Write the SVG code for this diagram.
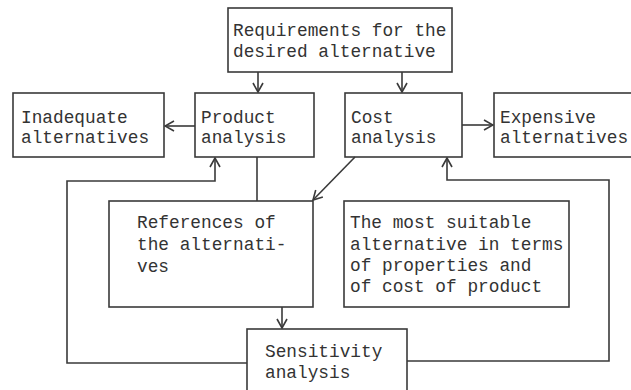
<svg xmlns="http://www.w3.org/2000/svg" width="631" height="390" viewBox="0 0 631 390">
<defs>
<style>
.box{fill:none;stroke:#3a3a3a;stroke-width:1.6}
.ln{fill:none;stroke:#3a3a3a;stroke-width:1.6}
text{font-family:"Liberation Mono","DejaVu Sans Mono",monospace;font-size:17.8px;fill:#333}
</style>
<marker id="ah" viewBox="0 0 12 12" refX="11" refY="6" markerWidth="12" markerHeight="12" markerUnits="userSpaceOnUse" orient="auto">
<path d="M2,1 L11,6 L2,11" fill="none" stroke="#3a3a3a" stroke-width="1.6"/>
</marker>
</defs>
<rect width="631" height="390" fill="#fff"/>
<g id="requirements"><rect class="box" x="228" y="8" width="224" height="64"/>
<text x="233" y="36">Requirements for the</text><text x="233" y="57">desired alternative</text></g>
<g id="inadequate"><rect class="box" x="13" y="93" width="151" height="64"/>
<text x="21" y="123">Inadequate</text><text x="21" y="143">alternatives</text></g>
<g id="product"><rect class="box" x="195" y="93" width="119" height="64"/>
<text x="201" y="123">Product</text><text x="201" y="143">analysis</text></g>
<g id="cost"><rect class="box" x="345" y="93" width="117" height="64"/>
<text x="351" y="123">Cost</text><text x="351" y="143">analysis</text></g>
<g id="expensive"><rect class="box" x="494" y="93" width="145" height="64"/>
<text x="500" y="123">Expensive</text><text x="500" y="143">alternatives</text></g>
<g id="references"><rect class="box" x="109" y="201" width="204" height="106"/>
<text x="137" y="228">References of</text><text x="137" y="250">the alternati-</text><text x="137" y="272">ves</text></g>
<g id="suitable"><rect class="box" x="344" y="201" width="225" height="106"/>
<text x="350" y="228">The most suitable</text><text x="350" y="250">alternative in terms</text><text x="350" y="271">of properties and</text><text x="350" y="292">of cost of product</text></g>
<g id="sensitivity"><rect class="box" x="247" y="329" width="160" height="70"/>
<text x="265" y="357">Sensitivity</text><text x="265" y="378">analysis</text></g>
<g id="connectors">
<line class="ln" x1="258" y1="72" x2="258" y2="92" marker-end="url(#ah)"/>
<line class="ln" x1="402" y1="72" x2="402" y2="92" marker-end="url(#ah)"/>
<line class="ln" x1="195" y1="126" x2="165" y2="126" marker-end="url(#ah)"/>
<line class="ln" x1="462" y1="125" x2="493" y2="125" marker-end="url(#ah)"/>
<line class="ln" x1="257" y1="157" x2="257" y2="201"/>
<line class="ln" x1="355" y1="157" x2="313" y2="200" marker-end="url(#ah)"/>
<line class="ln" x1="282" y1="307" x2="282" y2="328" marker-end="url(#ah)"/>
<polyline class="ln" points="247,363 67,363 67,181 215,181 215,158" marker-end="url(#ah)"/>
<polyline class="ln" points="407,361 609,361 609,180 447,180 447,158" marker-end="url(#ah)"/>
</g>
</svg>
